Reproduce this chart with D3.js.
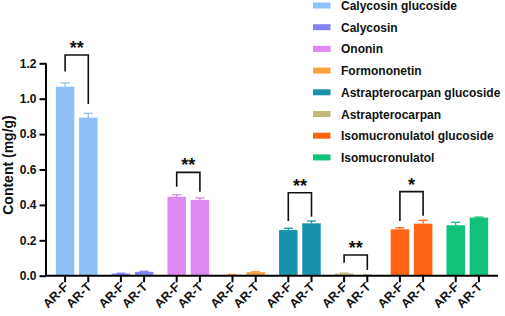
<!DOCTYPE html>
<html lang="en">
  <head>
    <meta charset="utf-8" />
    <title>Content</title>
    <script src="https://d3js.org/d3.v7.min.js"></script>
    <style>
      body { margin: 0; background: white; }
      svg { font-family: "Liberation Sans", Arial, sans-serif; font-weight: bold; }
    </style>
  </head>
  <body>
    <svg width="505" height="316"></svg>
    <script type="text/javascript">
      const compounds = [
        "Calycosin glucoside",
        "Calycosin",
        "Ononin",
        "Formononetin",
        "Astrapterocarpan glucoside",
        "Astrapterocarpan",
        "Isomucronulatol glucoside",
        "Isomucronulatol",
      ];
      const colours = [
        "#8fc0f8", "#8282f2", "#de88f4", "#ffa040",
        "#1993ad", "#c4b87c", "#ff6414", "#12c17a",
      ];
      const samples = ["AR-F", "AR-T"];
      const meanF = [1.068, 0.012, 0.446, 0.006, 0.258, 0.012, 0.262, 0.285];
      const meanT = [0.893, 0.022, 0.428, 0.02, 0.296, 0.004, 0.294, 0.328];
      const errF = [0.021, 0.002, 0.012, 0.001, 0.01, 0.003, 0.009, 0.017];
      const errT = [0.024, 0.003, 0.011, 0.003, 0.013, 0.001, 0.019, 0.003];

      // significance brackets: group, top, left leg end, right leg end, label
      const sigGroup = [0, 2, 4, 5, 6];
      const sigTop = [1.247, 0.584, 0.469, 0.117, 0.475];
      const sigLeft = [1.153, 0.503, 0.309, 0.073, 0.309];
      const sigRight = [0.97, 0.475, 0.333, 0.032, 0.339];
      const sigLabel = ["**", "**", "**", "**", "*"];

      const yTicks = [0, 0.2, 0.4, 0.6, 0.8, 1.0, 1.2];

      const svg = d3.select("svg");
      const plotL = 46, plotR = 498, plotT = 63.3, plotB = 275.7;

      const x = d3.scalePoint().domain(compounds).range([plotL, plotR]).padding(0.55);
      const inner = d3.scalePoint().domain(samples).range([-11.6, 11.6]);
      const y = d3.scaleLinear().domain([0, 1.2]).range([plotB, plotT]);
      const colour = d3.scaleOrdinal().domain(compounds).range(colours);
      const barW = 18.5;

      const bars = [];
      compounds.forEach((c, i) => {
        bars.push({ c, s: "AR-F", v: meanF[i], e: errF[i] });
        bars.push({ c, s: "AR-T", v: meanT[i], e: errT[i] });
      });
      const bx = (d) => x(d.c) + inner(d.s);

      // error bars (upper half only)
      const eb = svg.append("g").selectAll("g").data(bars).enter().append("g")
        .attr("stroke", (d) => colour(d.c)).attr("stroke-width", 1.3);
      eb.append("line")
        .attr("x1", bx).attr("x2", bx)
        .attr("y1", (d) => y(d.v)).attr("y2", (d) => y(d.v + d.e));
      eb.append("line")
        .attr("x1", (d) => bx(d) - 4.5).attr("x2", (d) => bx(d) + 4.5)
        .attr("y1", (d) => y(d.v + d.e)).attr("y2", (d) => y(d.v + d.e));

      svg.append("g").selectAll("rect").data(bars).enter().append("rect")
        .attr("x", (d) => bx(d) - barW / 2)
        .attr("width", barW)
        .attr("y", (d) => y(d.v))
        .attr("height", (d) => y(0) - y(d.v))
        .attr("fill", (d) => colour(d.c));

      // y axis
      const yAxis = svg.append("g")
        .attr("transform", `translate(${plotL},0)`)
        .call(d3.axisLeft(y).tickValues(yTicks).tickFormat(d3.format(".1f")).tickSize(6.5).tickPadding(3));
      yAxis.select(".domain").attr("stroke-width", 2).attr("d", `M0,${plotT}V${plotB}`);
      yAxis.selectAll(".tick line").attr("stroke-width", 2);
      yAxis.selectAll("text").attr("font-size", 12).attr("font-weight", "bold")
        .attr("font-family", "Liberation Sans, Arial, sans-serif").attr("fill", "#111");

      // x axis
      const xAxisG = svg.append("g").attr("transform", `translate(0,${plotB})`);
      xAxisG.append("line").attr("x1", plotL - 1).attr("x2", plotR)
        .attr("stroke", "black").attr("stroke-width", 2);
      const xt = xAxisG.selectAll(".xt").data(bars).enter().append("g")
        .attr("transform", (d) => `translate(${bx(d)},0)`);
      xt.append("line").attr("y1", 0).attr("y2", 6.5).attr("stroke", "black").attr("stroke-width", 2);
      xt.append("text")
        .attr("transform", "translate(4,12) rotate(-45)")
        .attr("text-anchor", "end")
        .attr("font-size", 12.5)
        .attr("fill", "#111")
        .text((d) => d.s);

      // y label
      svg.append("text")
        .attr("transform", "translate(12.5,165) rotate(-90)")
        .attr("text-anchor", "middle")
        .attr("font-size", 14)
        .attr("fill", "#111")
        .text("Content (mg/g)");

      // significance brackets
      sigGroup.forEach((g, k) => {
        const c = compounds[g];
        const x1 = x(c) + inner("AR-F"), x2 = x(c) + inner("AR-T");
        svg.append("path")
          .attr("d", `M${x1},${y(sigLeft[k])}V${y(sigTop[k])}H${x2}V${y(sigRight[k])}`)
          .attr("fill", "none").attr("stroke", "#111").attr("stroke-width", 1.6);
        svg.append("text")
          .attr("x", (x1 + x2) / 2)
          .attr("y", y(sigTop[k]) - 1)
          .attr("text-anchor", "middle")
          .attr("font-size", 18)
          .attr("fill", "#111")
          .text(sigLabel[k]);
      });

      // legend
      const lg = svg.append("g").selectAll("g").data(compounds).enter().append("g")
        .attr("transform", (d, i) => `translate(313,${5.5 + i * 21.7})`);
      lg.append("rect").attr("x", 0).attr("y", -3).attr("width", 17.5).attr("height", 6)
        .attr("fill", (d) => colour(d));
      lg.append("text").attr("x", 28).attr("y", 4.5)
        .attr("font-size", 12).attr("fill", "#111").text((d) => d);
    </script>
  </body>
</html>
